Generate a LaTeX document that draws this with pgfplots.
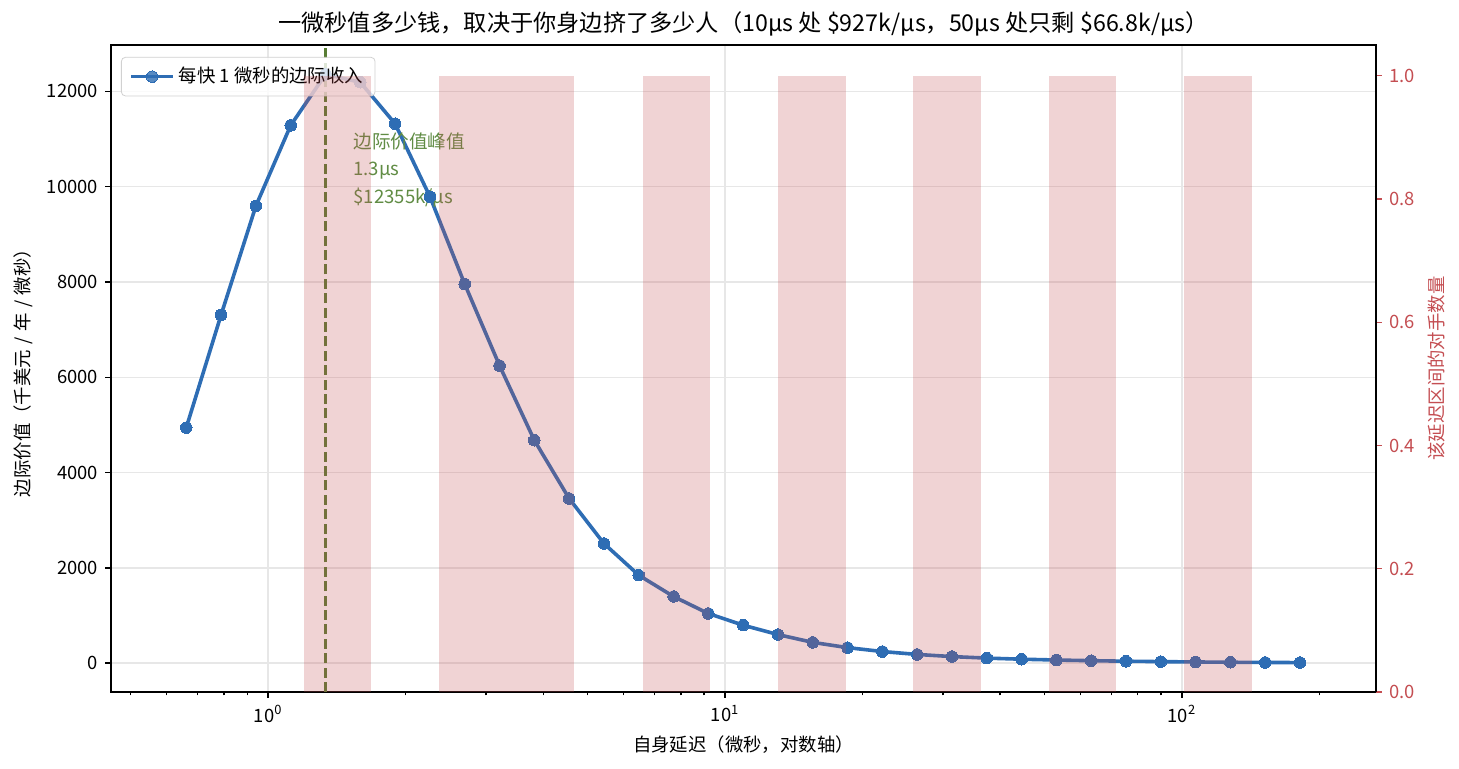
\documentclass[border=0pt]{standalone}
\usepackage{fontspec}
\setmainfont{Noto Sans CJK SC}
\usepackage{pgfplots}
\pgfplotsset{compat=1.18}

\definecolor{lineblue}{RGB}{46,109,180}
\definecolor{barred}{RGB}{196,78,82}
\definecolor{peakgreen}{RGB}{88,125,52}
\definecolor{notegreen}{RGB}{96,140,68}
\definecolor{gridgray}{RGB}{231,231,231}

\newcommand{\smallfont}{\fontsize{9.2}{11}\selectfont}
\newcommand{\slsep}{\hspace{0.3em}/\hspace{0.3em}}

\begin{document}
\begin{tikzpicture}
\path[use as bounding box] (-55.5pt,-38.5pt) rectangle (674pt,346pt);

% marginal value curve
\begin{axis}[
  at={(0pt,0pt)}, anchor=south west,
  scale only axis, width=632.5pt, height=323.5pt,
  xmode=log, xmin=0.453, xmax=265.8,
  ymin=-605, ymax=12972,
  xtick={1,10,100},
  xticklabels={10\textsuperscript{0},10\textsuperscript{1},10\textsuperscript{2}},
  minor xtick={0.5,0.6,0.7,0.8,0.9,2,3,4,5,6,7,8,9,20,30,40,50,60,70,80,90,200},
  ytick={0,2000,4000,6000,8000,10000,12000},
  scaled y ticks=false,
  xtick pos=bottom, ytick pos=left,
  tick align=outside,
  major tick length=3pt, minor tick length=1.75pt,
  tick style={black, line width=0.7pt},
  axis line style={line width=0.7pt},
  grid=major, major grid style={gridgray, line width=0.7pt},
  /pgf/number format/assume math mode=true,
  /pgf/number format/1000 sep={},
  tick label style={font=\smallfont},
  label style={font=\smallfont},
  xlabel={自身延迟（微秒，对数轴）},
  ylabel={边际价值（千美元\slsep 年\slsep 微秒）},
  title={一微秒值多少钱，取决于你身边挤了多少人（10μs 处 \$927k/μs，50μs 处只剩 \$66.8k/μs）},
  title style={font=\fontsize{11.6}{13}\selectfont, yshift=-5pt},
  legend style={at={(axis description cs:0.0079,0.9815)}, anchor=north west,
    draw=black!18, rounded corners=2pt, fill=white, fill opacity=0.8,
    text opacity=1, font=\smallfont, inner xsep=4pt, inner ysep=3pt},
  legend cell align=left,
  legend image code/.code={\draw[mark repeat=2,mark phase=2,#1] plot coordinates {(0pt,0pt) (10.5pt,0pt) (21pt,0pt)};},
]
\addplot[lineblue, line width=1.8pt, mark=*, mark size=2.9pt,
  mark options={solid, fill=lineblue, draw=lineblue, line width=0pt}] table {
0.662 4943
0.7889 7305
0.9401 9595
1.1203 11285
1.3351 12355
1.5911 12190
1.8961 11320
2.2596 9790
2.6928 7955
3.2090 6245
3.8242 4678
4.5573 3455
5.4310 2511
6.4721 1846
7.7128 1399
9.1914 1042
10.953 797
13.053 600
15.555 436
18.537 326
22.091 244
26.325 183
31.372 138
37.386 106
44.554 83
53.095 66
63.273 52
75.403 41
89.858 32
107.08 25
127.61 19
152.08 15
181.23 12
};
\addlegendentry{每快 1 微秒的边际收入}

% peak marker
\addplot[peakgreen, line width=1.5pt, dash pattern=on 5pt off 2.2pt, forget plot]
  coordinates {(1.3351,-605) (1.3351,12972)};
\node[anchor=north west, align=left, inner sep=0pt, text=notegreen,
  font=\fontsize{9.3}{13.75}\selectfont] at (axis cs:1.534,11140)
  {边际价值峰值\\1.3μs\\\$12355k/μs};
\end{axis}

% competitor count per latency bin
\begin{axis}[
  at={(0pt,0pt)}, anchor=south west,
  scale only axis, width=632.5pt, height=323.5pt,
  xmode=log, xmin=0.453, xmax=265.8,
  ymin=0, ymax=1.05,
  axis x line=none, axis y line*=right,
  ytick={0,0.2,0.4,0.6,0.8,1.0},
  tick align=outside, major tick length=3pt,
  ytick style={barred, line width=0.7pt},
  axis line style={line width=0.7pt},
  /pgf/number format/assume math mode=true,
  yticklabel style={text=barred, font=\smallfont,
    /pgf/number format/.cd, fixed, fixed zerofill, precision=1},
  ylabel={该延迟区间的对手数量},
  ylabel style={text=barred, font=\smallfont},
]
\addplot[fill=barred, fill opacity=0.25, draw=none] coordinates {(1.196,1) (1.675,1)} \closedcycle;
\addplot[fill=barred, fill opacity=0.25, draw=none] coordinates {(2.364,1) (4.670,1)} \closedcycle;
\addplot[fill=barred, fill opacity=0.25, draw=none] coordinates {(6.600,1) (9.290,1)} \closedcycle;
\addplot[fill=barred, fill opacity=0.25, draw=none] coordinates {(13.03,1) (18.37,1)} \closedcycle;
\addplot[fill=barred, fill opacity=0.25, draw=none] coordinates {(25.78,1) (36.26,1)} \closedcycle;
\addplot[fill=barred, fill opacity=0.25, draw=none] coordinates {(51.20,1) (71.58,1)} \closedcycle;
\addplot[fill=barred, fill opacity=0.25, draw=none] coordinates {(101.2,1) (142.2,1)} \closedcycle;
\end{axis}
\end{tikzpicture}
\end{document}
